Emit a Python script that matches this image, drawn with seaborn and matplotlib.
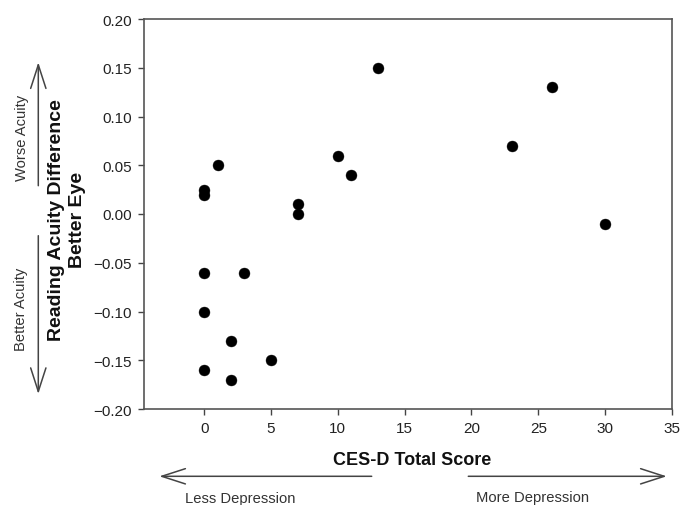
import matplotlib
matplotlib.use("Agg")
import matplotlib.pyplot as plt
import seaborn as sns
import pandas as pd

# Data
ces_d_score = [0, 0, 0, 0, 0, 1, 2, 2, 3, 5, 7, 7, 10, 11, 13, 23, 26, 30]
acuity_diff = [0.025, 0.02, -0.06, -0.10, -0.16, 0.05, -0.13, -0.17, -0.06,
               -0.15, 0.01, 0.00, 0.06, 0.04, 0.15, 0.07, 0.13, -0.01]
x_ticks = [0, 5, 10, 15, 20, 25, 30, 35]
y_ticks = [-0.20, -0.15, -0.10, -0.05, 0.00, 0.05, 0.10, 0.15, 0.20]

df = pd.DataFrame({"score": ces_d_score, "diff": acuity_diff})

sns.set_style("ticks")
plt.rcParams["font.family"] = ["Liberation Sans", "DejaVu Sans"]

W, H = 690, 506
fig = plt.figure(figsize=(W / 100, H / 100), dpi=100)
ax = fig.add_axes([144 / W, (H - 410) / H, (672 - 144) / W, 390 / H])

sns.scatterplot(data=df, x="score", y="diff", ax=ax, color="black",
                s=62, edgecolor="black", linewidth=0.3, legend=False)

ax.set_xlim(-4.5, 35)
ax.set_ylim(-0.20, 0.20)
ax.set_xticks(x_ticks)
ax.set_yticks(y_ticks)
ax.set_yticklabels([f"{v:.2f}".replace("-", "\u2212") for v in y_ticks])
ax.tick_params(axis="both", direction="out", length=4.5, width=1.0,
               color="#444444", labelsize=11, labelcolor="#222222", pad=4)

for sp in ax.spines.values():
    sp.set_visible(True)
    sp.set_color("#555555")
    sp.set_linewidth(1.2)

ax.set_xlabel("CES-D Total Score", fontsize=13, fontweight="bold", color="#111111",
              va="center")
ax.xaxis.set_label_coords((412 - 144) / 528, (H - 460.7 - 96) / 390)
ax.set_ylabel("Reading Acuity Difference\nBetter Eye", fontsize=14,
              fontweight="bold", color="#111111", va="center", ha="center",
              multialignment="center", linespacing=1.3)
ax.yaxis.set_label_coords((67 - 144) / 528, (H - 220 - 96) / 390)

arrow_kw = dict(arrowstyle="->,head_length=1.7,head_width=0.55",
                color="#444444", lw=1.1, shrinkA=0, shrinkB=0)

# y-side arrows
ax.annotate("", xy=(38.3, H - 63.3), xytext=(38.3, H - 186.7),
            xycoords="figure pixels", textcoords="figure pixels",
            arrowprops=arrow_kw, annotation_clip=False)
ax.annotate("", xy=(38.3, H - 395), xytext=(38.3, H - 236.7),
            xycoords="figure pixels", textcoords="figure pixels",
            arrowprops=arrow_kw, annotation_clip=False)
fig.text(21.7 / W, (H - 138) / H, "Worse Acuity", rotation=90, ha="center",
         va="center", fontsize=10.6, color="#333333")
fig.text(20.7 / W, (H - 309) / H, "Better Acuity", rotation=90, ha="center",
         va="center", fontsize=10.6, color="#333333")

# x-side arrows
ax.annotate("", xy=(159.3, H - 477.3), xytext=(371.7, H - 477.3),
            xycoords="figure pixels", textcoords="figure pixels",
            arrowprops=arrow_kw, annotation_clip=False)
ax.annotate("", xy=(666.7, H - 477.3), xytext=(468.3, H - 477.3),
            xycoords="figure pixels", textcoords="figure pixels",
            arrowprops=arrow_kw, annotation_clip=False)
fig.text(240 / W, (H - 499) / H, "Less Depression", ha="center", va="center",
         fontsize=10.6, color="#333333")
fig.text(533 / W, (H - 498) / H, "More Depression", ha="center", va="center",
         fontsize=10.6, color="#333333")

fig.savefig("out.png", dpi=100)
